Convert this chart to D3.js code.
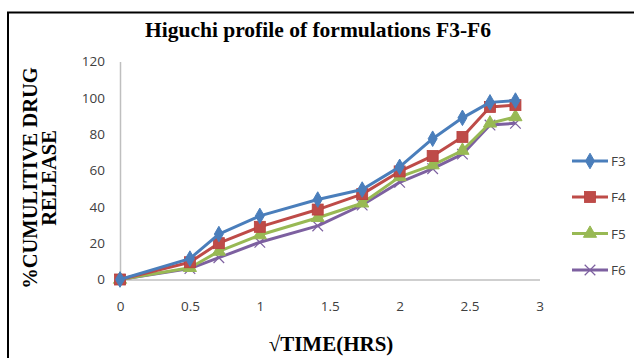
<!DOCTYPE html>
<html>
<head>
<meta charset="utf-8">
<script src="https://cdn.jsdelivr.net/npm/d3@7/dist/d3.min.js"></script>
<style>
  html, body { margin: 0; padding: 0; background: #fff; }
  svg { display: block; }
</style>
</head>
<body>
<svg id="chart" width="634" height="358"></svg>
<script>
// √time (hrs) sampling points: √0 … √8
const sqrtTime = [0, 0.5, 0.707, 1, 1.414, 1.732, 2, 2.236, 2.449, 2.646, 2.828];

// cumulative drug release (%) for each formulation
const f3 = [0, 11.5, 25, 35, 44, 49.5, 62, 77.5, 89, 97.5, 98.5];
const f4 = [0, 9.5, 20, 29, 38.5, 47, 59.5, 68, 78.5, 95, 96];
const f5 = [0, 6.5, 15.5, 24.5, 34, 42, 56.5, 63, 71, 86, 89.5];
const f6 = [0, 6, 12, 20.5, 29.5, 41, 53.5, 61, 69, 85, 86];

const seriesNames = ["F3", "F4", "F5", "F6"];
const seriesColors = ["#4A7EBB", "#BE4B48", "#98B954", "#7D60A0"];
const seriesMarkers = ["diamond", "square", "triangle", "cross"];

const xTicks = [0, 0.5, 1, 1.5, 2, 2.5, 3];
const yTicks = [0, 20, 40, 60, 80, 100, 120];

const titleText = "Higuchi profile of formulations F3-F6";
const xTitle = "\u221ATIME(HRS)";
const yTitleLines = ["%CUMULITIVE DRUG", "RELEASE"];

const svg = d3.select("#chart");
const serif = "'Liberation Serif', 'Times New Roman', serif";
const sans = "'Open Sans', 'Liberation Sans', sans-serif";

// outer frame (runs off the right and bottom edges)
svg.append("rect")
  .attr("x", 8).attr("y", 12.5)
  .attr("width", 700).attr("height", 400)
  .attr("fill", "none").attr("stroke", "#000").attr("stroke-width", 2);

const x = d3.scaleLinear().domain([0, 3]).range([120, 539.5]);
const y = d3.scaleLinear().domain([0, 120]).range([279.5, 61.5]);

// axes
const xAxis = d3.axisBottom(x).tickValues(xTicks).tickSize(0).tickPadding(22)
  .tickFormat(d3.format("~g"));
const yAxis = d3.axisLeft(y).tickValues(yTicks).tickSize(0).tickPadding(15);

const gx = svg.append("g").attr("transform", `translate(0,${y(0)})`).call(xAxis);
const gy = svg.append("g").attr("transform", `translate(${x(0)},0)`).call(yAxis);
[gx, gy].forEach(g => {
  g.select(".domain").attr("stroke", "#BFBFBF").attr("stroke-width", 1.5);
  g.selectAll("text")
    .attr("font-family", sans)
    .attr("font-size", 13.5).attr("fill", "#404040");
});

// titles
svg.append("text")
  .attr("x", 318).attr("y", 37)
  .attr("text-anchor", "middle")
  .attr("font-family", serif)
  .attr("font-weight", "bold").attr("font-size", 21.5)
  .attr("fill", "#000")
  .text(titleText);

svg.append("text")
  .attr("x", 331).attr("y", 351)
  .attr("text-anchor", "middle")
  .attr("font-family", serif)
  .attr("font-weight", "bold").attr("font-size", 21)
  .attr("fill", "#000")
  .text(xTitle);

const yt = svg.append("text")
  .attr("transform", "translate(37,178) rotate(-90)")
  .attr("text-anchor", "middle")
  .attr("font-family", serif)
  .attr("font-weight", "bold").attr("font-size", 20.5)
  .attr("fill", "#000");
yTitleLines.forEach((t, i) => {
  yt.append("tspan").attr("x", 0).attr("dy", i === 0 ? 0 : 19).text(t);
});

// marker shapes
function drawMarker(g, type, color, cx, cy) {
  if (type === "diamond") {
    g.append("path")
      .attr("d", d3.symbol().type(d3.symbolDiamond).size(70)())
      .attr("transform", `translate(${cx},${cy})`)
      .attr("fill", color).attr("stroke", color);
  } else if (type === "square") {
    g.append("rect")
      .attr("x", cx - 5.5).attr("y", cy - 5.5)
      .attr("width", 11).attr("height", 11)
      .attr("fill", color).attr("stroke", "#B8403D").attr("stroke-width", 0.8);
  } else if (type === "triangle") {
    g.append("path")
      .attr("d", d3.symbol().type(d3.symbolTriangle).size(75)())
      .attr("transform", `translate(${cx},${cy})`)
      .attr("fill", color).attr("stroke", color);
  } else {
    g.append("path")
      .attr("d", d3.symbol().type(d3.symbolX).size(75)())
      .attr("transform", `translate(${cx},${cy})`)
      .attr("fill", "none").attr("stroke", color).attr("stroke-width", 1.2);
  }
}

const allSeries = [f3, f4, f5, f6];
const line = d3.line().x(d => x(d[0])).y(d => y(d[1]));

// draw last series first so F3 sits on top
for (let s = allSeries.length - 1; s >= 0; s--) {
  const pts = sqrtTime.map((t, i) => [t, allSeries[s][i]]);
  const g = svg.append("g");
  g.append("path")
    .attr("d", line(pts))
    .attr("fill", "none")
    .attr("stroke", seriesColors[s])
    .attr("stroke-width", 3)
    .attr("stroke-linejoin", "round");
  pts.forEach(p => drawMarker(g, seriesMarkers[s], seriesColors[s], x(p[0]), y(p[1])));
}

// legend
const legendY = [161, 197, 233.5, 270];
seriesNames.forEach((name, i) => {
  const g = svg.append("g");
  g.append("line")
    .attr("x1", 572).attr("x2", 608)
    .attr("y1", legendY[i]).attr("y2", legendY[i])
    .attr("stroke", seriesColors[i]).attr("stroke-width", 3);
  drawMarker(g, seriesMarkers[i], seriesColors[i], 590, legendY[i]);
  g.append("text")
    .attr("x", 611).attr("y", legendY[i] + 5)
    .attr("font-family", sans)
    .attr("font-size", 13.5).attr("fill", "#404040")
    .text(name);
});
</script>
</body>
</html>
